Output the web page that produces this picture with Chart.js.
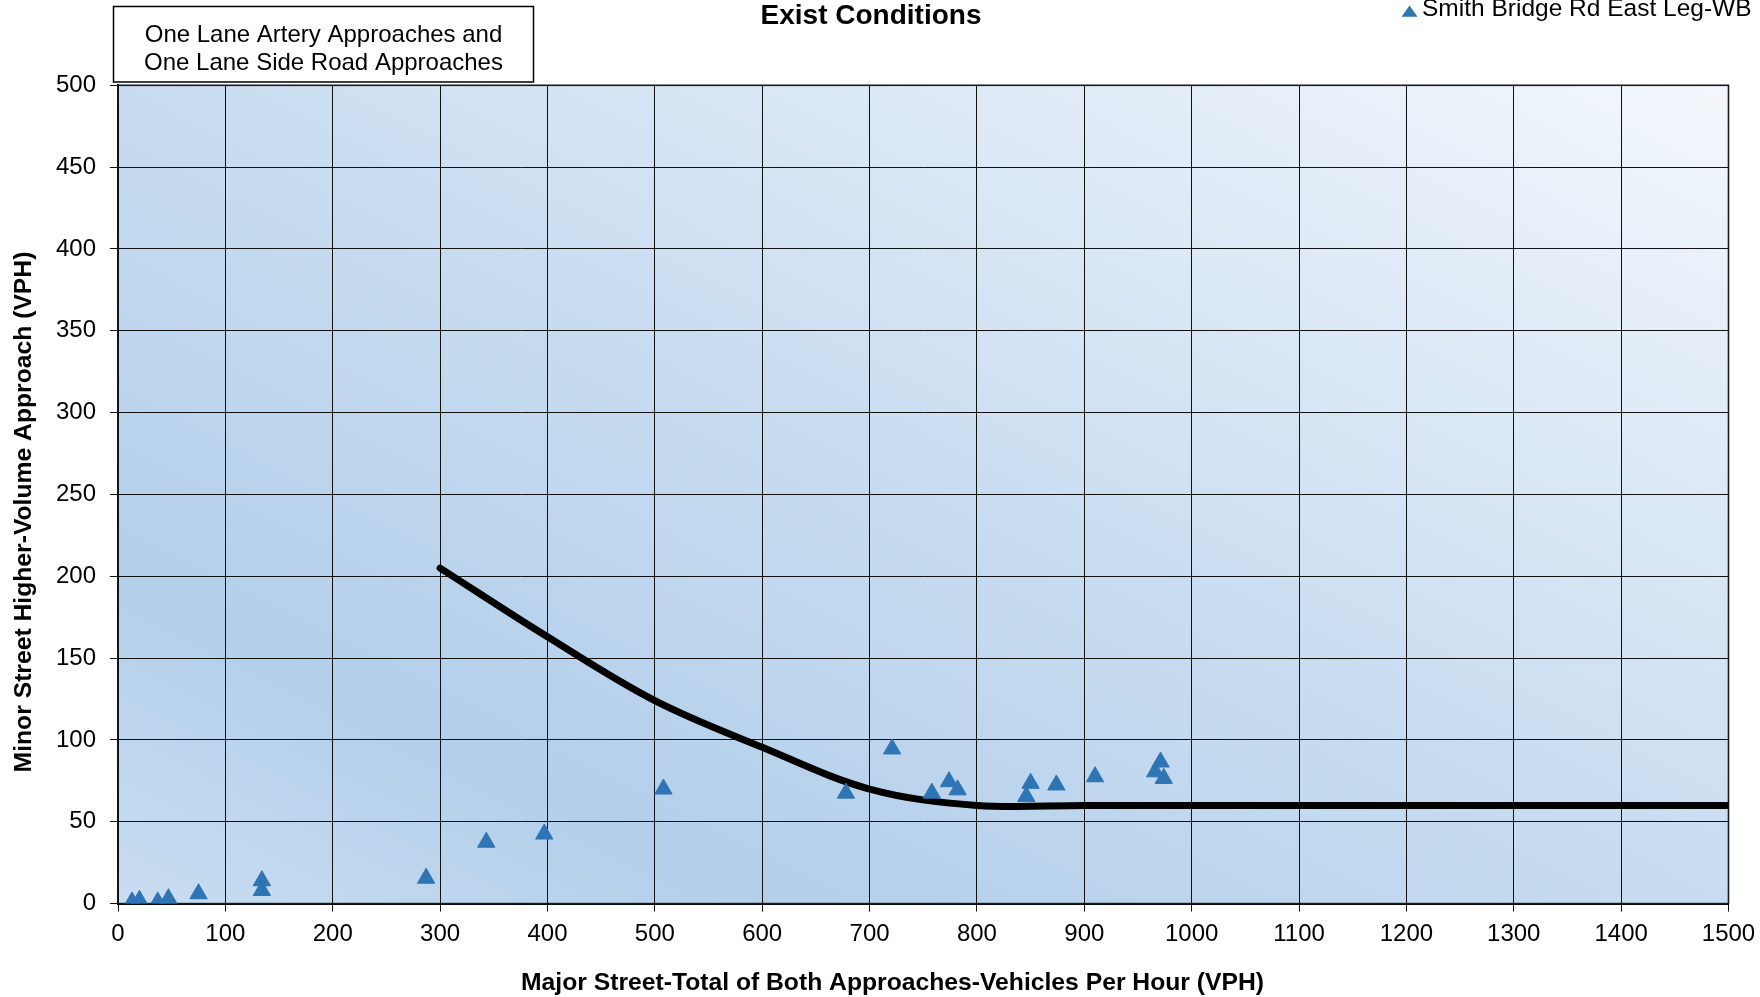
<!DOCTYPE html>
<html>
<head>
<meta charset="utf-8">
<script src="https://cdn.jsdelivr.net/npm/chart.js@4.4.0/dist/chart.umd.min.js"></script>
<style>
html,body{margin:0;padding:0;background:#ffffff;}
#wrap{width:1760px;height:997px;position:relative;}
canvas{display:block;}
</style>
</head>
<body>
<div id="wrap"><canvas id="c" width="1760" height="997"></canvas></div>
<script>
// ---- texts ----
const chartTitle = 'Exist Conditions';
const seriesName = 'Smith Bridge Rd East Leg-WB';
const noteLines = ['One Lane Artery Approaches and', 'One Lane Side Road Approaches'];
const xAxisTitle = 'Major Street-Total of Both Approaches-Vehicles Per Hour (VPH)';
const yAxisTitle = 'Minor Street Higher-Volume Approach (VPH)';

// ---- observed volumes (triangles) ----
const majorVolumes = [13, 20, 37, 47, 75, 134, 134, 287, 343, 397, 508, 678, 721, 758, 774, 782, 846, 850, 874, 910, 966, 971, 974];
const minorVolumes = [1, 2, 1, 3, 6, 14, 8, 15.5, 37.5, 42.5, 70, 67.5, 94.5, 67.5, 74.5, 69.5, 65.5, 73.5, 72.5, 77.5, 80.5, 86.5, 76.5];

// ---- warrant threshold curve ----
const thresholdMajor = [300, 400, 500, 600, 700, 800, 900, 1000, 1100, 1200, 1300, 1400, 1500];
const thresholdMinor = [205, 163, 124, 95.5, 70, 60, 60, 60, 60, 60, 60, 60, 60];

// ---- tick labels ----
const xTickLabels = [0, 100, 200, 300, 400, 500, 600, 700, 800, 900, 1000, 1100, 1200, 1300, 1400, 1500];
const yTickLabels = [0, 50, 100, 150, 200, 250, 300, 350, 400, 450, 500];

const FONT = "'Liberation Sans', Arial, Helvetica, sans-serif";
const MARKER = '#2E75B6';

const pointsData = majorVolumes.map((x, i) => ({x: x, y: minorVolumes[i]}));
const curveData = thresholdMajor.map((x, i) => ({x: x, y: thresholdMinor[i]}));

const decor = {
  id: 'decor',
  beforeDraw(chart) {
    const ctx = chart.ctx, a = chart.chartArea;
    ctx.save();
    ctx.translate(a.left, a.top);
    ctx.scale(a.right - a.left, a.bottom - a.top);
    const g = ctx.createLinearGradient(1, 0, 0, 1);
    g.addColorStop(0, '#F3F7FC');
    g.addColorStop(0.5, '#C8DCF0');
    g.addColorStop(0.8, '#B3CFEA');
    g.addColorStop(1, '#C9DDF1');
    ctx.fillStyle = g;
    ctx.fillRect(0, 0, 1, 1);
    ctx.restore();
  },
  beforeDatasetsDraw(chart) {
    const ctx = chart.ctx, a = chart.chartArea;
    ctx.save();
    ctx.strokeStyle = '#1a1a1a';
    ctx.lineWidth = 1.6;
    ctx.strokeRect(a.left, a.top, a.right - a.left, a.bottom - a.top);
    ctx.restore();
  },
  afterDraw(chart) {
    const ctx = chart.ctx;
    ctx.save();
    ctx.fillStyle = '#000';
    // title
    ctx.font = 'bold 28px ' + FONT;
    ctx.textAlign = 'center';
    ctx.textBaseline = 'alphabetic';
    ctx.fillText(chartTitle, 871, 23.5);
    // legend
    ctx.fillStyle = MARKER;
    ctx.beginPath();
    ctx.moveTo(1409.5, 5.5);
    ctx.lineTo(1417.5, 16.8);
    ctx.lineTo(1401.5, 16.8);
    ctx.closePath();
    ctx.fill();
    ctx.fillStyle = '#000';
    ctx.font = '24.5px ' + FONT;
    ctx.textAlign = 'left';
    ctx.fillText(seriesName, 1422, 16);
    // note box
    ctx.fillStyle = '#fff';
    ctx.fillRect(113.5, 6.5, 420, 75.5);
    ctx.strokeStyle = '#000';
    ctx.lineWidth = 1.5;
    ctx.strokeRect(113.5, 6.5, 420, 75.5);
    ctx.fillStyle = '#000';
    ctx.font = '24px ' + FONT;
    ctx.textAlign = 'center';
    ctx.fillText(noteLines[0], 323.5, 42);
    ctx.fillText(noteLines[1], 323.5, 69.5);
    // x axis title
    ctx.font = 'bold 24.7px ' + FONT;
    ctx.textAlign = 'center';
    ctx.fillText(xAxisTitle, 892.5, 990);
    // y axis title
    ctx.translate(31, 512);
    ctx.rotate(-Math.PI / 2);
    ctx.fillText(yAxisTitle, 0, 0);
    ctx.restore();
  }
};

new Chart(document.getElementById('c'), {
  type: 'scatter',
  data: {
    datasets: [
      {
        label: seriesName,
        data: pointsData,
        pointStyle: 'triangle',
        pointRadius: 10,
        pointHoverRadius: 10,
        backgroundColor: MARKER,
        borderColor: MARKER,
        borderWidth: 1,
        order: 0
      },
      {
        label: 'Threshold',
        data: curveData,
        showLine: true,
        borderColor: '#000',
        borderWidth: 7,
        pointRadius: 0,
        pointHoverRadius: 0,
        tension: 0.35,
        borderCapStyle: 'round',
        borderJoinStyle: 'round',
        fill: false,
        order: 1
      }
    ]
  },
  options: {
    responsive: false,
    animation: false,
    devicePixelRatio: 1,
    events: [],
    layout: {padding: {left: 0, top: 85.3, right: 31.5, bottom: 0}},
    plugins: {legend: {display: false}, title: {display: false}, tooltip: {enabled: false}},
    scales: {
      x: {
        type: 'linear',
        position: 'bottom',
        min: xTickLabels[0],
        max: xTickLabels[xTickLabels.length - 1],
        afterBuildTicks(s) { s.ticks = xTickLabels.map(v => ({value: v})); },
        ticks: {
          font: {family: FONT, size: 24},
          color: '#000',
          padding: 8,
          maxRotation: 0,
          autoSkip: false,
          callback: v => String(v)
        },
        grid: {color: '#111', lineWidth: 1, tickLength: 8, drawTicks: true},
        border: {color: '#000', width: 2},
        afterFit(s) { s.height = 997 - 903.6; s.paddingLeft = 0; s.paddingRight = 0; }
      },
      y: {
        type: 'linear',
        position: 'left',
        min: yTickLabels[0],
        max: yTickLabels[yTickLabels.length - 1],
        afterBuildTicks(s) { s.ticks = yTickLabels.map(v => ({value: v})); },
        ticks: {
          font: {family: FONT, size: 24},
          color: '#000',
          padding: 14,
          autoSkip: false,
          callback: v => String(v)
        },
        grid: {color: '#111', lineWidth: 1, tickLength: 8, drawTicks: true},
        border: {color: '#000', width: 2},
        afterFit(s) { s.width = 118; s.paddingTop = 0; s.paddingBottom = 0; }
      }
    }
  },
  plugins: [decor]
});
</script>
</body>
</html>
